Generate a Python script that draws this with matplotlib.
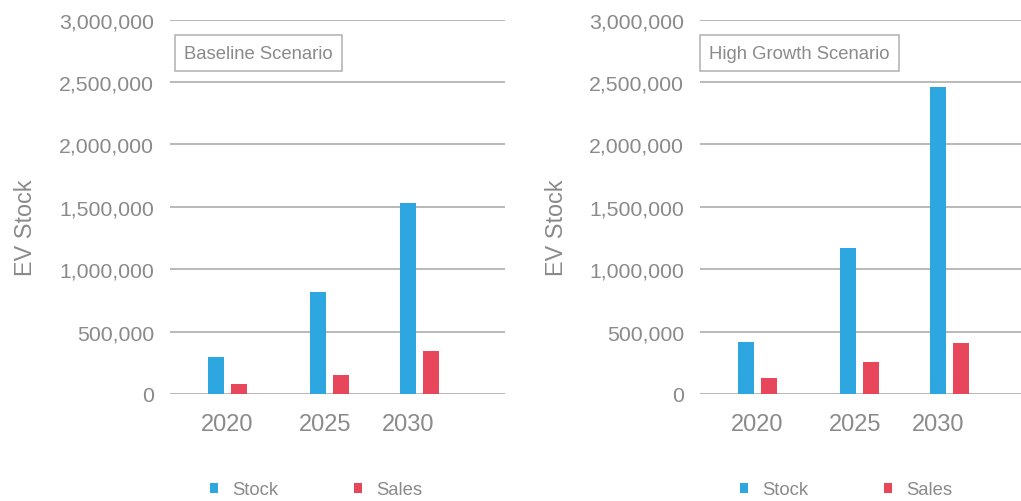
import matplotlib.pyplot as plt
from matplotlib.ticker import FuncFormatter

# -------------------------------
# DATA
# -------------------------------
years = ['2020', '2025', '2030']
baseline_stock = [300000, 815000, 1530000]
baseline_sales = [80000, 150000, 345000]
high_stock = [420000, 1170000, 2460000]
high_sales = [130000, 260000, 405000]
scenarios = ['Baseline Scenario', 'High Growth Scenario']

# -------------------------------
# STYLE
# -------------------------------
plt.rcParams['font.family'] = ['Liberation Sans', 'DejaVu Sans']
BLUE = '#2ea7e0'
RED = '#e8465a'
TEXT = '#8a8a8a'
GRID = '#a6a6a6'

group_x = [0, 1.015, 1.915]   # group centres along the category axis
tick_x = [0, 0.975, 1.805]    # where the year labels sit
off = 0.115
width = 0.16

W, H = 1021, 502
fig = plt.figure(figsize=(W / 100, H / 100), dpi=100)

panels = [
    (170, baseline_stock, baseline_sales, scenarios[0], 5),
    (700, high_stock, high_sales, scenarios[1], 0),
]

for left, stock, sales, title, box_dx in panels:
    ax = fig.add_axes([left / W, (H - 395) / H, 335 / W, 374.3 / H])
    sx = [g - off for g in group_x]
    rx = [g + off for g in group_x]
    b1 = ax.bar(sx, stock, width=width, color=BLUE, zorder=3, label='Stock')
    b2 = ax.bar(rx, sales, width=width, color=RED, zorder=3, label='Sales')

    ax.set_xlim(-0.575, 2.775)
    ax.set_ylim(0, 3000000)
    ax.set_yticks(range(0, 3000001, 500000))
    ax.yaxis.set_major_formatter(FuncFormatter(lambda v, p: f'{int(v):,}'))
    ax.set_xticks(tick_x)
    ax.set_xticklabels(years)
    ax.grid(axis='y', color=GRID, linewidth=1.1, zorder=0)
    for s in ax.spines.values():
        s.set_visible(False)
    ax.tick_params(axis='y', length=0, pad=11.5, labelsize=15.3, labelcolor=TEXT)
    ax.tick_params(axis='x', length=0, pad=14, labelsize=17, labelcolor=TEXT)

    # scenario label box
    ax.text(box_dx / 335 + 0.027, 0.911, title, transform=ax.transAxes,
            fontsize=13.3, color=TEXT, va='center', ha='left',
            bbox=dict(boxstyle='square,pad=0.5', facecolor='white',
                      edgecolor='#b0b0b0', linewidth=1.1), zorder=5)

    # y axis title
    fig.text((left - 144) / W, 1 - 227.5 / H, 'EV Stock', rotation=90,
             ha='center', va='center', fontsize=16.8, color=TEXT)

    # legend under each panel
    leg = fig.legend(handles=[b1, b2], loc='center',
                     bbox_to_anchor=((left + 146) / W, 1 - 491 / H),
                     ncol=2, frameon=False, fontsize=13.3,
                     handlelength=0.45, handleheight=0.45,
                     handletextpad=0.75, columnspacing=4.1)
    for t in leg.get_texts():
        t.set_color(TEXT)

fig.savefig('out.png', dpi=100)
